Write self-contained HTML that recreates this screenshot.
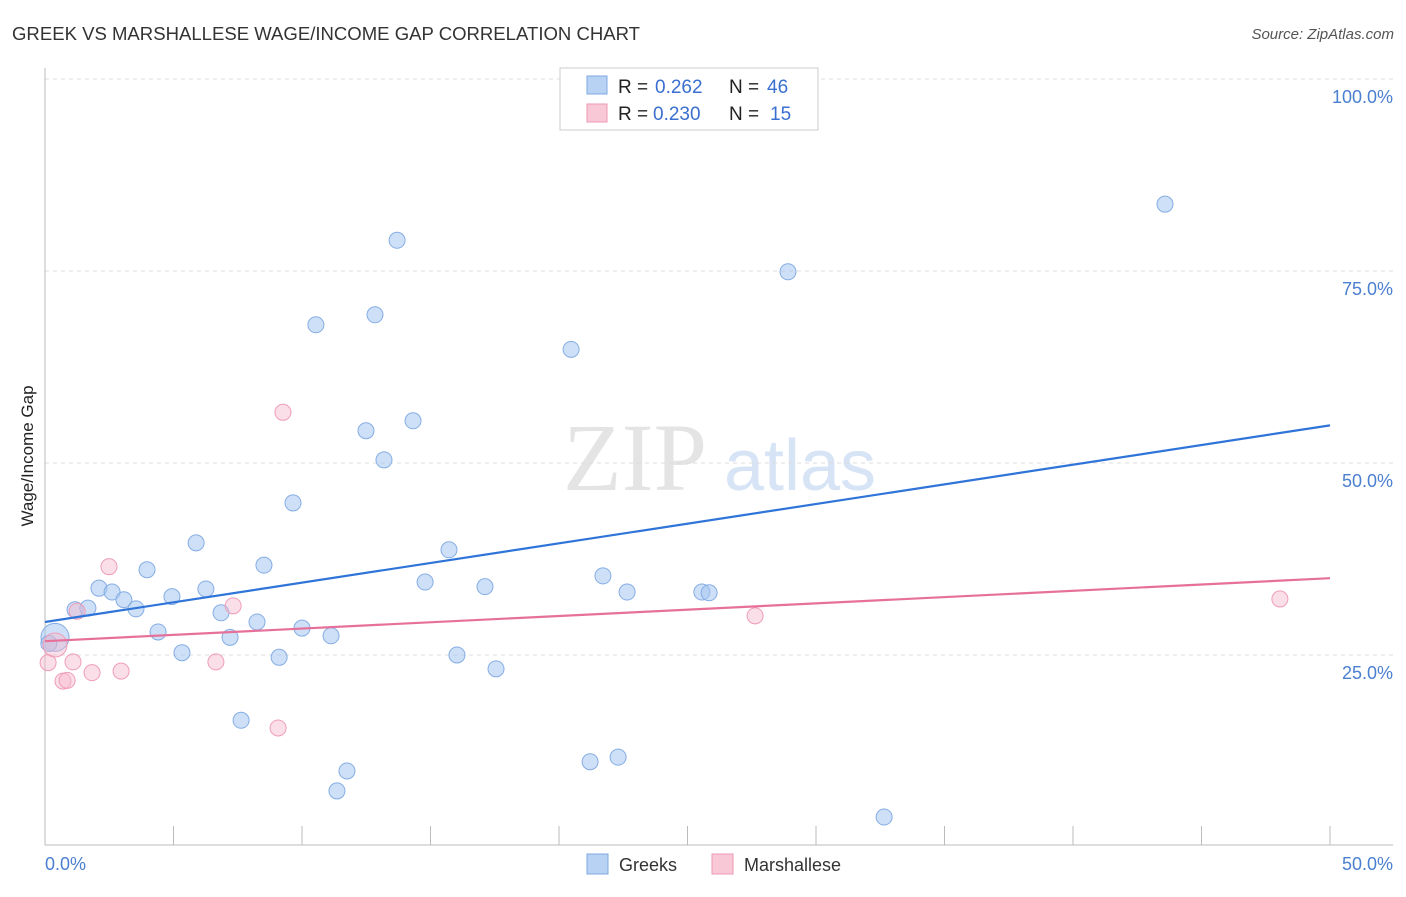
<!DOCTYPE html>
<html><head><meta charset="utf-8"><style>
body{margin:0;background:#fff;font-family:"Liberation Sans",sans-serif;}
</style></head><body>
<svg id="c" width="1406" height="892" xmlns="http://www.w3.org/2000/svg" style="font-family:'Liberation Sans',sans-serif">
<text x="12" y="40" font-size="18" fill="#333" textLength="628" lengthAdjust="spacingAndGlyphs">GREEK VS MARSHALLESE WAGE/INCOME GAP CORRELATION CHART</text>
<text x="1394" y="39" font-size="15" fill="#555" font-style="italic" text-anchor="end">Source: ZipAtlas.com</text>
<g>
<text x="635" y="490" font-size="96" fill="#e4e4e4" font-family="'Liberation Serif',serif" text-anchor="middle">ZIP</text>
<text x="800" y="490" font-size="72" fill="#d6e4f5" text-anchor="middle">atlas</text>
</g>
<g id="grid"></g>
<line x1="45" y1="68" x2="45" y2="845" stroke="#bbb"/>
<line x1="45" y1="845" x2="1393" y2="845" stroke="#bbb"/>
<text transform="translate(33,456) rotate(-90)" font-size="17" fill="#222" text-anchor="middle">Wage/Income Gap</text>
<text x="45" y="870" font-size="18" fill="#4a7fd0">0.0%</text>
<text x="1393" y="870" font-size="18" fill="#4a7fd0" text-anchor="end">50.0%</text>
<g id="marks"></g>
<g font-size="19">
<rect x="560" y="68" width="258" height="62" fill="#fff" stroke="#ccc"/>
<rect x="587" y="76" width="20" height="18" fill="#b8d2f4" stroke="#7fa8e0"/>
<rect x="587" y="104" width="20" height="18" fill="#f9c8d6" stroke="#ee9ab4"/>
<text x="618" y="93" fill="#222">R =</text><text x="655" y="93" fill="#3a6fcf">0.262</text>
<text x="729" y="93" fill="#222">N =</text><text x="767" y="93" fill="#3a6fcf">46</text>
<text x="618" y="120" fill="#222">R =</text><text x="653" y="120" fill="#3a6fcf">0.230</text>
<text x="729" y="120" fill="#222">N =</text><text x="770" y="120" fill="#3a6fcf">15</text>
</g>
<g>
<rect x="587" y="854" width="21" height="20" fill="#b8d2f4" stroke="#7fa8e0"/>
<text x="619" y="871" font-size="18" fill="#333">Greeks</text>
<rect x="712" y="854" width="21" height="20" fill="#f9c8d6" stroke="#ee9ab4"/>
<text x="744" y="871" font-size="18" fill="#333">Marshallese</text>
</g>
</svg>
<script>
const yTicks=[25,50,75,100];
const yTickLabels=["25.0%","50.0%","75.0%","100.0%"];
const greeksX=[0.39,1.17,1.67,2.10,2.61,3.07,3.54,3.97,4.40,4.94,5.33,5.88,6.26,6.85,7.20,7.63,8.25,8.52,9.11,9.65,10.0,10.54,11.13,11.36,11.75,12.49,12.84,13.19,13.70,14.32,14.79,15.72,16.03,17.12,17.55,20.47,21.21,21.71,22.30,22.65,25.56,25.84,28.91,32.65,43.58,0.15];
const greeksY=[27.3,30.9,31.1,33.7,33.2,32.2,31.0,36.1,28.0,32.6,25.3,39.6,33.6,30.5,27.3,16.5,29.3,36.7,24.7,44.8,28.5,68.0,27.5,7.3,9.9,54.2,69.3,50.4,79.0,55.5,34.5,38.7,25.0,33.9,23.2,64.8,11.1,35.3,11.7,33.2,33.2,33.1,74.9,3.9,83.7,26.5];
const marshX=[0.12,0.39,0.70,0.86,1.09,1.25,1.83,2.49,2.96,6.65,7.32,9.07,9.26,27.63,48.05];
const marshY=[24.0,26.3,21.6,21.7,24.1,30.7,22.7,36.5,22.9,24.1,31.4,15.5,56.6,30.1,32.3];
const greeksTrend=[29.3,54.9];
const marshTrend=[26.8,35.0];
const X=v=>45+v/50*1285;
const Y=v=>847-v/100*768;
const NS="http://www.w3.org/2000/svg";
const grid=document.getElementById('grid'),marks=document.getElementById('marks');
function mk(t,a,p){const e=document.createElementNS(NS,t);for(const k in a)e.setAttribute(k,a[k]);p.appendChild(e);return e;}
yTicks.forEach((t,i)=>{
 const l=mk('line',{x1:45,x2:1393,y1:Y(t),y2:Y(t),stroke:'#ddd','stroke-dasharray':'4,4'},grid);
 
 
 const tx=mk('text',{x:1393,y:Y(t)+24,'font-size':18,fill:'#4a7fd0','text-anchor':'end'},grid);
 tx.textContent=yTickLabels[i];
 
 
});
for(let i=0;i<=10;i++){
 const l=mk('line',{x1:X(i*5),x2:X(i*5),y1:826,y2:845,stroke:'#bbb'},grid);
 
 
}
greeksX.forEach((x,i)=>{
 const big=i===0;
 const c=mk('circle',{cx:X(x),cy:Y(greeksY[i]),r:big?14:8,fill:'rgba(165,198,240,0.55)',stroke:'#85ade4','stroke-width':1},marks);
 
 
});
marshX.forEach((x,i)=>{
 const big=i===1;
 const c=mk('circle',{cx:X(x),cy:Y(marshY[i]),r:big?12:8,fill:'rgba(246,185,205,0.45)',stroke:'#ef9db7','stroke-width':1},marks);
 
 
});
const t1=mk('line',{x1:X(0),x2:X(50),y1:Y(greeksTrend[0]),y2:Y(greeksTrend[1]),stroke:'#2f74d8','stroke-width':2.2},marks);


const t2=mk('line',{x1:X(0),x2:X(50),y1:Y(marshTrend[0]),y2:Y(marshTrend[1]),stroke:'#e6709a','stroke-width':2.2},marks);


</script>
</body></html>
